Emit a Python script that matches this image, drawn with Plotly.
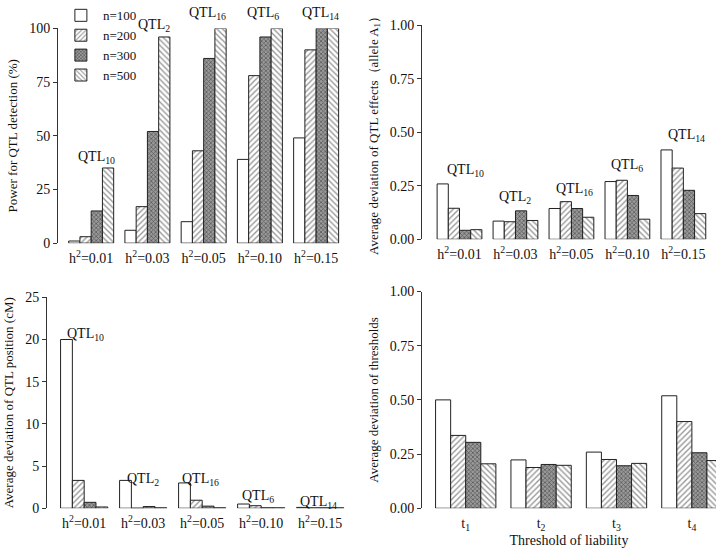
import plotly.graph_objects as go

# data
groups = ["h<sup>2</sup>=0.01", "h<sup>2</sup>=0.03", "h<sup>2</sup>=0.05",
          "h<sup>2</sup>=0.10", "h<sup>2</sup>=0.15"]
thresholds = ["t<sub>1</sub>", "t<sub>2</sub>", "t<sub>3</sub>", "t<sub>4</sub>"]
sizes = ["n=100", "n=200", "n=300", "n=500"]
qtl_labels = ["QTL<sub>10</sub>", "QTL<sub>2</sub>", "QTL<sub>16</sub>",
              "QTL<sub>6</sub>", "QTL<sub>14</sub>"]

power = {
    "n=100": [1, 6, 10, 39, 49],
    "n=200": [3, 17, 43, 78, 90],
    "n=300": [15, 52, 86, 96, 100],
    "n=500": [35, 96, 100, 100, 100],
}
effect_dev = {
    "n=100": [0.259, 0.085, 0.144, 0.270, 0.418],
    "n=200": [0.145, 0.082, 0.176, 0.276, 0.333],
    "n=300": [0.042, 0.133, 0.144, 0.205, 0.229],
    "n=500": [0.045, 0.088, 0.103, 0.094, 0.120],
}
position_dev = {
    "n=100": [20.0, 3.3, 3.0, 0.5, 0.1],
    "n=200": [3.3, 0.0, 0.95, 0.3, 0.05],
    "n=300": [0.7, 0.2, 0.25, 0.05, 0.05],
    "n=500": [0.15, 0.05, 0.05, 0.05, 0.05],
}
threshold_dev = {
    "n=100": [0.500, 0.223, 0.259, 0.519],
    "n=200": [0.336, 0.188, 0.225, 0.400],
    "n=300": [0.304, 0.202, 0.196, 0.256],
    "n=500": [0.205, 0.198, 0.207, 0.220],
}

# QTL label positions (x as group index, y in data units) per panel
power_lbl_x = [0.1, 1.12, 2.06, 3.06, 4.07]
power_lbl_y = [40, 101.5, 107, 107, 107]
effect_lbl_x = [0.1, 1.0, 2.05, 3.0, 4.05]
effect_lbl_y = [0.321, 0.195, 0.235, 0.344, 0.485]
pos_lbl_x = [0.02, 1.0, 1.97, 2.95, 3.97]
pos_lbl_y = [20.6, 3.35, 3.35, 1.4, 0.67]

patterns = {
    "n=100": dict(shape="", bgcolor="white"),
    "n=200": dict(shape="/", fgcolor="#333333", bgcolor="white", size=4, solidity=0.35),
    "n=300": dict(shape="x", fgcolor="#1a1a1a", bgcolor="#9a9a9a", size=3, solidity=0.45),
    "n=500": dict(shape="\\", fgcolor="#333333", bgcolor="white", size=4, solidity=0.35),
}

FONT = "Liberation Serif, Times New Roman, serif"

fig = go.Figure()

panels = [
    (groups, power, "x", "y", True),
    (groups, effect_dev, "x2", "y2", False),
    (groups, position_dev, "x3", "y3", False),
    (thresholds, threshold_dev, "x4", "y4", False),
]
for cats, data, xa, ya, show in panels:
    for n in sizes:
        fig.add_trace(go.Bar(
            x=list(range(len(cats))), y=data[n], name=n, xaxis=xa, yaxis=ya,
            showlegend=show, legendgroup=n,
            marker=dict(color="white", line=dict(color="#222222", width=1),
                        pattern=patterns[n]),
        ))

annotations = []
for lbls, xs, ys, xr, yr, ymax in [
    (qtl_labels, power_lbl_x, power_lbl_y, "x", "y", 100),
    (qtl_labels, effect_lbl_x, effect_lbl_y, "x2", "y2", 1),
    (qtl_labels, pos_lbl_x, pos_lbl_y, "x3", "y3", 25),
]:
    for t, xv, yv in zip(lbls, xs, ys):
        # domain refs so labels above the axis top are still drawn
        annotations.append(dict(text=t, x=xv, y=yv / ymax, xref=xr, yref=yr + " domain",
                                yanchor="middle", showarrow=False,
                                font=dict(family=FONT, size=14, color="#111")))

W, H = 718, 553


def xd(a, b):
    return [a / W, b / W]


def yd(top, bottom):
    return [1 - bottom / H, 1 - top / H]


yaxis_common = dict(showline=True, linecolor="#333", linewidth=1, ticks="outside",
                    ticklen=4, tickcolor="#333", showgrid=False, zeroline=False,
                    tickfont=dict(family=FONT, size=14, color="#111"))
xaxis_common = dict(showline=False, ticks="", showgrid=False, zeroline=False,
                    ticklabelstandoff=5,
                    tickfont=dict(family=FONT, size=14, color="#111"))

fig.update_layout(
    width=W, height=H, margin=dict(l=0, r=0, t=0, b=0),
    plot_bgcolor="white", paper_bgcolor="white",
    barmode="group", bargap=0.2, bargroupgap=0,
    font=dict(family=FONT, color="#111"),
    legend=dict(x=0.082, y=1.018, xanchor="left", yanchor="top",
                bgcolor="rgba(0,0,0,0)", font=dict(family=FONT, size=13),
                tracegroupgap=0, itemwidth=34),
    annotations=annotations,
    xaxis=dict(xaxis_common, domain=xd(58, 342), range=[-0.59, 4.46],
               tickvals=list(range(5)), ticktext=groups, anchor="y"),
    yaxis=dict(yaxis_common, domain=yd(19, 241), range=[0, 100],
               tickvals=[0, 25, 50, 75, 100], anchor="x",
               title=dict(text="Power for QTL detection (%)", standoff=8,
                          font=dict(size=13))),
    xaxis2=dict(xaxis_common, domain=xd(422, 708), range=[-0.67, 4.44],
                tickvals=list(range(5)), ticktext=groups, anchor="y2"),
    yaxis2=dict(yaxis_common, domain=yd(16, 237), range=[0, 1],
                tickvals=[0, 0.25, 0.5, 0.75, 1], tickformat=".2f", anchor="x2",
                title=dict(text="Average deviation of QTL effects（allele A<sub>1</sub>）",
                           standoff=8, font=dict(size=13))),
    xaxis3=dict(xaxis_common, domain=xd(47, 345), range=[-0.63, 4.42],
                tickvals=list(range(5)), ticktext=groups, anchor="y3"),
    yaxis3=dict(yaxis_common, domain=yd(297, 515), range=[0, 25],
                tickvals=[0, 5, 10, 15, 20, 25], anchor="x3",
                title=dict(text="Average deviation of QTL position (cM)", standoff=8,
                           font=dict(size=13))),
    xaxis4=dict(xaxis_common, domain=xd(422, 716), range=[-0.58, 3.32],
                tickvals=list(range(4)), ticktext=thresholds, anchor="y4",
                title=dict(text="Threshold of liability", standoff=2,
                           font=dict(size=14))),
    yaxis4=dict(yaxis_common, domain=yd(291, 515), range=[0, 1],
                tickvals=[0, 0.25, 0.5, 0.75, 1], tickformat=".2f", anchor="x4",
                title=dict(text="Average deviation of thresholds", standoff=8,
                           font=dict(size=13))),
)

# drop the default body margin so the 718x553 figure sits at the page corner
fig.write_html("out.html", config={"displayModeBar": False},
               post_script="document.body.style.margin='0';")
